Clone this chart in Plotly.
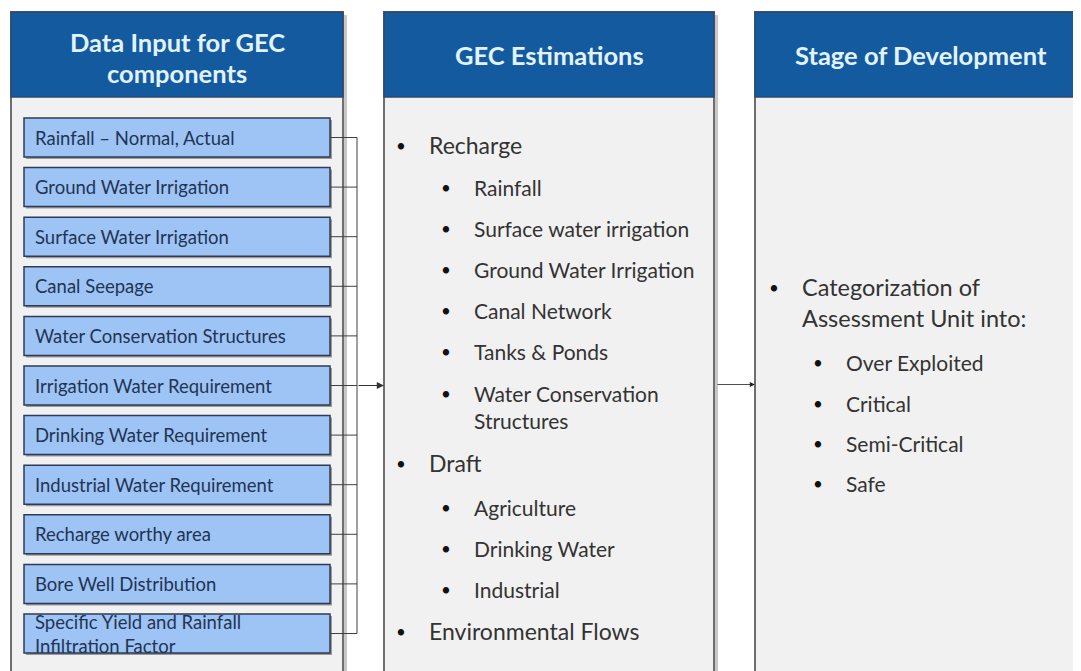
import plotly.graph_objects as go

W, H = 1081, 671
OFF = 8  # the page body has an 8px margin; shift the axes so coordinates are screen pixels

INPUT_ITEMS = [
    "Rainfall – Normal, Actual",
    "Ground Water Irrigation",
    "Surface Water Irrigation",
    "Canal Seepage",
    "Water Conservation Structures",
    "Irrigation Water Requirement",
    "Drinking Water Requirement",
    "Industrial Water Requirement",
    "Recharge worthy area",
    "Bore Well Distribution",
    "Specific Yield and Rainfall<br>Infiltration Factor",
]

HEADERS = ["Data Input for GEC<br>components", "GEC Estimations", "Stage of Development"]

# (level, text) for the middle panel
ESTIMATIONS = [
    (0, "Recharge"),
    (1, "Rainfall"),
    (1, "Surface water irrigation"),
    (1, "Ground Water Irrigation"),
    (1, "Canal Network"),
    (1, "Tanks & Ponds"),
    (1, "Water Conservation<br>Structures"),
    (0, "Draft"),
    (1, "Agriculture"),
    (1, "Drinking Water"),
    (1, "Industrial"),
    (0, "Environmental Flows"),
]
EST_Y = [145, 187, 228, 269, 310, 351, 393, 463, 507, 548, 589, 631]

STAGES = [
    (0, "Categorization of<br>Assessment Unit into:"),
    (1, "Over Exploited"),
    (1, "Critical"),
    (1, "Semi-Critical"),
    (1, "Safe"),
]
STAGE_Y = [287, 362, 403, 443, 483]

HEADER_BLUE = "#145a9e"
BODY_GREY = "#f1f1f1"
BORDER = "#6f6f6f"
BOX_BLUE = "#9ec3f5"
BOX_EDGE = "#2c3b57"
FONT = "Lato"

panels = [(11, 343), (384, 714), (755, 1095)]
header_cx = [177, 549, 921]
top, head_bot, bottom = 12, 97, 690

fig = go.Figure()
shapes = []
ann = []

for (x0, x1), title, cx in zip(panels, HEADERS, header_cx):
    shapes.append(dict(type="rect", x0=x0 + 3, x1=x1 + 4, y0=top + 3, y1=bottom,
                       fillcolor="#c8c8c8", line_width=0, layer="below"))
    shapes.append(dict(type="rect", x0=x0, x1=x1, y0=top, y1=bottom,
                       fillcolor=BODY_GREY, line=dict(color=BORDER, width=2)))
    shapes.append(dict(type="rect", x0=x0, x1=x1, y0=top, y1=head_bot,
                       fillcolor=HEADER_BLUE, line=dict(color="#2d4a6e", width=1.5)))
    lines = title.split("<br>")
    ys = [(top + head_bot) / 2] if len(lines) == 1 else [42, 73]
    for ln, y in zip(lines, ys):
        ann.append(dict(x=cx, y=y, text="<b>" + ln + "</b>", showarrow=False,
                        font=dict(family=FONT, size=25.5, color="#e2f3ff"),
                        xanchor="center", yanchor="middle"))

# input boxes
bx0, bx1 = 24, 330
box_top0, pitch, box_h = 118, 49.6, 39
conn_x = 357
centers = []
for i, label in enumerate(INPUT_ITEMS):
    y0 = box_top0 + i * pitch
    y1 = y0 + box_h
    yc = (y0 + y1) / 2
    centers.append(yc)
    shapes.append(dict(type="rect", x0=bx0 + 2, x1=bx1 + 2, y0=y0 + 2, y1=y1 + 2,
                       fillcolor="#9a9a9a", line_width=0))
    shapes.append(dict(type="rect", x0=bx0, x1=bx1, y0=y0, y1=y1,
                       fillcolor=BOX_BLUE, line=dict(color=BOX_EDGE, width=1.5)))
    shapes.append(dict(type="line", x0=bx1, x1=conn_x, y0=yc, y1=yc,
                       line=dict(color="#404040", width=1)))
    lines = label.split("<br>")
    ys = [yc] if len(lines) == 1 else [y0 + 8 + k * 24 for k in range(len(lines))]
    for ln, y in zip(lines, ys):
        ann.append(dict(x=bx0 + 9, y=y, text=ln, showarrow=False,
                        font=dict(family=FONT, size=18.5, color="#1f3553"),
                        xanchor="left", yanchor="middle"))

shapes.append(dict(type="line", x0=conn_x, x1=conn_x, y0=centers[0], y1=centers[-1],
                   line=dict(color="#404040", width=1)))

# arrows between panels
arrow_y = centers[5]
ann.append(dict(x=panels[1][0], y=arrow_y, ax=conn_x, ay=arrow_y, axref="x", ayref="y",
                xref="x", yref="y", text="", showarrow=True, arrowhead=2, arrowsize=1.2,
                arrowwidth=1.2, arrowcolor="#333333"))
ann.append(dict(x=panels[2][0], y=arrow_y - 1, ax=panels[1][1] + 2, ay=arrow_y - 1,
                axref="x", ayref="y", xref="x", yref="y", text="", showarrow=True,
                arrowhead=2, arrowsize=1.3, arrowwidth=0.8, arrowcolor="#222222"))


def bullets(items, ys, bxs, txs, sizes):
    for (lvl, txt), y in zip(items, ys):
        lines = txt.split("<br>")
        ann.append(dict(x=bxs[lvl], y=y, text="•", showarrow=False,
                        font=dict(family=FONT, size=17, color="#111111"),
                        xanchor="center", yanchor="middle"))
        step = sizes[lvl] * 1.3 if lvl == 0 else 27
        for k, ln in enumerate(lines):
            ann.append(dict(x=txs[lvl], y=y + k * step, text=ln, showarrow=False,
                            font=dict(family=FONT, size=sizes[lvl], color="#333333"),
                            xanchor="left", yanchor="middle"))


bullets(ESTIMATIONS, EST_Y, (401, 446), (427, 472), (23, 21))
bullets(STAGES, STAGE_Y, (774, 818), (800, 844), (23.5, 21))

# figure fills the window after the body's 8px top/left margin, so nothing scrolls
FW, FH = W - OFF, H - OFF
fig.update_layout(
    width=FW, height=FH,
    margin=dict(l=0, r=0, t=0, b=0),
    paper_bgcolor="white", plot_bgcolor="white",
    shapes=shapes, annotations=ann,
    xaxis=dict(range=[OFF, W], visible=False, fixedrange=True),
    yaxis=dict(range=[H, OFF], visible=False, fixedrange=True),
    showlegend=False,
)

fig.write_html("out.html")
